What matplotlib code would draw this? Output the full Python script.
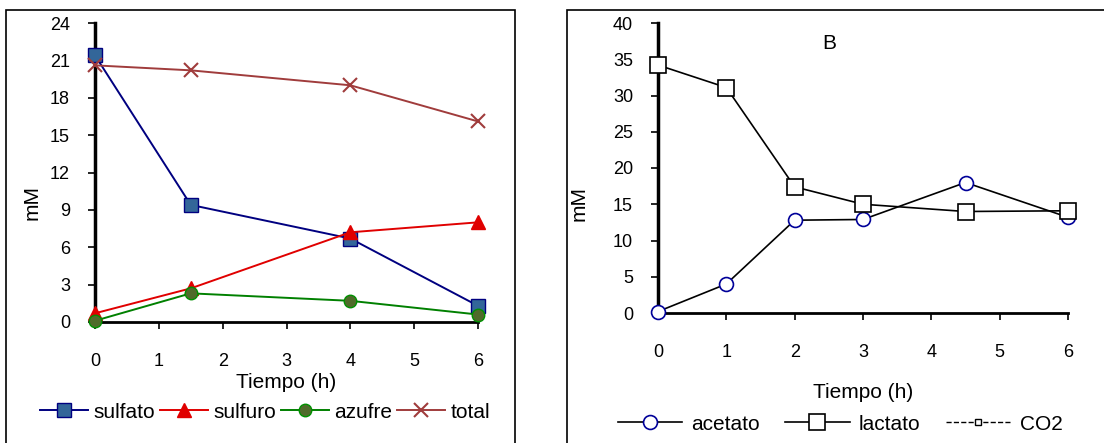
import matplotlib
matplotlib.use("Agg")
import matplotlib.pyplot as plt
from matplotlib.patches import Rectangle

plt.rcParams["font.family"] = ["Liberation Sans", "DejaVu Sans"]
plt.rcParams["font.size"] = 15

# panel A: sulfur species
t_a = [0, 1.5, 4, 6]
sulfato = [21.4, 9.4, 6.7, 1.3]
sulfuro = [0.7, 2.7, 7.2, 8.0]
azufre = [0.1, 2.3, 1.7, 0.6]
total = [20.6, 20.2, 19.0, 16.1]

# panel B: organic acids
t_b = [0, 1, 2, 3, 4.5, 6]
acetato = [0.2, 4.0, 12.8, 12.9, 18.0, 13.2]
lactato = [34.2, 31.1, 17.4, 15.0, 14.0, 14.1]
co2 = []

W, H = 1104, 443
fig = plt.figure(figsize=(W / 100, H / 100), dpi=100)

# outer frames around each panel
fig.add_artist(Rectangle((6 / W, -0.05), 509 / W, 1.05 - 10 / H,
                         transform=fig.transFigure, fill=False, lw=1.2, ec="black"))
fig.add_artist(Rectangle((567 / W, -0.05), 600 / W, 1.05 - 10 / H,
                         transform=fig.transFigure, fill=False, lw=1.2, ec="black"))


def style_axes(ax, ymax, ystep):
    ax.set_xlim(0, 6)
    ax.set_ylim(0, ymax)
    ax.set_xticks(range(0, 7))
    ax.set_yticks(range(0, ymax + 1, ystep))
    for s in ["top", "right"]:
        ax.spines[s].set_visible(False)
    ax.spines["left"].set_linewidth(2.5)
    ax.spines["bottom"].set_linewidth(2)
    ax.tick_params(axis="y", direction="out", length=5, width=1.2, pad=13, labelsize=13)
    ax.tick_params(axis="x", direction="out", length=5, width=1.2, pad=17, labelsize=13)
    ax.set_ylabel("mM")
    ax.patch.set_alpha(0)


ax1 = fig.add_axes([95 / W, 1 - 322 / H, 383 / W, 299 / H])
style_axes(ax1, 24, 3)
ax1.plot(t_a, sulfato, "-s", color="#000080", mfc="#336699", mec="#000080",
         ms=10, lw=1.4, label="sulfato", clip_on=False, zorder=3)
ax1.plot(t_a, sulfuro, "-^", color="#E00000", mfc="#E00000", mec="#E00000",
         ms=10, lw=1.4, label="sulfuro", clip_on=False, zorder=3)
ax1.plot(t_a, azufre, "-o", color="#008000", mfc="#4F6B2A", mec="#009000",
         ms=9, lw=1.4, label="azufre", clip_on=False, zorder=4)
ax1.plot(t_a, total, "-x", color="#A03C3C", mec="#A03C3C", ms=10, mew=1.5,
         lw=1.4, label="total", clip_on=False, zorder=3)
ax1.set_xlabel("Tiempo (h)")
ax1.xaxis.set_label_coords(0.5, -(383 - 322) / 299, transform=ax1.transAxes)
ax1.xaxis.label.set_va("center")
ax1.yaxis.set_label_coords(-(95 - 42) / 383, 0.40)
fig.legend(handles=ax1.get_lines(), loc="center", bbox_to_anchor=(265 / W, 1 - 412 / H),
           ncol=4, frameon=False, handlelength=2.3, handletextpad=0.25,
           columnspacing=0.25, borderaxespad=0, borderpad=0)

ax2 = fig.add_axes([658 / W, 1 - 313 / H, 410 / W, 290 / H])
style_axes(ax2, 40, 5)
ax2.plot(t_b, acetato, "-o", color="black", mfc="white", mec="#000099",
         ms=10, mew=1.2, lw=1.2, label="acetato", clip_on=False, zorder=3)
ax2.plot(t_b, lactato, "-s", color="black", mfc="white", mec="black",
         ms=11, mew=1.2, lw=1.2, label="lactato", clip_on=False, zorder=4)
ax2.plot(co2, co2, "--s", color="black", mfc="white", ms=4, lw=1, label="CO2")
ax2.text(2.5, 37.2, "B", ha="center", va="center")
ax2.set_xlabel("Tiempo (h)")
ax2.xaxis.set_label_coords(0.5, -(392 - 313) / 290, transform=ax2.transAxes)
ax2.xaxis.label.set_va("center")
ax2.yaxis.set_label_coords(-(658 - 589) / 410, 0.376)
fig.legend(handles=ax2.get_lines(), loc="center", bbox_to_anchor=(840 / W, 1 - 424 / H),
           ncol=3, frameon=False, handlelength=3.1, handletextpad=0.45,
           columnspacing=1.2, borderaxespad=0, borderpad=0)

fig.savefig("out.png", dpi=100)
